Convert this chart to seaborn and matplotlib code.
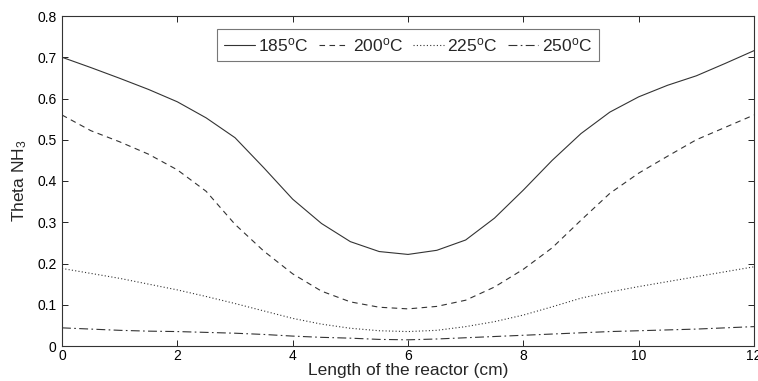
import numpy as np
import pandas as pd
import matplotlib
matplotlib.use("Agg")
import matplotlib.pyplot as plt
import seaborn as sns

length_cm = [0, 0.5, 1, 1.5, 2, 2.5, 3, 3.5, 4, 4.5, 5, 5.5, 6,
             6.5, 7, 7.5, 8, 8.5, 9, 9.5, 10, 10.5, 11, 11.5, 12]
theta_185 = [0.700, 0.675, 0.649, 0.622, 0.592, 0.553, 0.505, 0.432, 0.356, 0.297, 0.253, 0.229, 0.222,
             0.232, 0.257, 0.310, 0.378, 0.450, 0.515, 0.567, 0.604, 0.632, 0.655, 0.685, 0.716]
theta_200 = [0.560, 0.522, 0.495, 0.465, 0.427, 0.375, 0.295, 0.230, 0.175, 0.133, 0.107, 0.094, 0.090,
             0.096, 0.111, 0.143, 0.186, 0.238, 0.305, 0.370, 0.419, 0.460, 0.500, 0.530, 0.560]
theta_225 = [0.188, 0.176, 0.164, 0.150, 0.136, 0.120, 0.103, 0.085, 0.067, 0.053, 0.043, 0.037, 0.035,
             0.038, 0.047, 0.059, 0.075, 0.095, 0.116, 0.131, 0.144, 0.156, 0.168, 0.180, 0.192]
theta_250 = [0.044, 0.041, 0.038, 0.036, 0.035, 0.033, 0.031, 0.028, 0.024, 0.021, 0.019, 0.016, 0.015,
             0.017, 0.020, 0.023, 0.026, 0.029, 0.032, 0.035, 0.037, 0.039, 0.041, 0.044, 0.047]
series_labels = ["185$^\\mathrm{o}$C", "200$^\\mathrm{o}$C", "225$^\\mathrm{o}$C", "250$^\\mathrm{o}$C"]
x_ticks = [0, 2, 4, 6, 8, 10, 12]
y_ticks = [0, 0.1, 0.2, 0.3, 0.4, 0.5, 0.6, 0.7, 0.8]

sns.set_style("white")
plt.rcParams['font.family'] = ['Liberation Sans', 'DejaVu Sans']
plt.rcParams['mathtext.fontset'] = 'custom'
plt.rcParams['mathtext.rm'] = 'Liberation Sans'
plt.rcParams['mathtext.it'] = 'Liberation Sans:italic'

fig = plt.figure(figsize=(7.58, 3.81), dpi=100)
ax = fig.add_axes([62/758, 35/381, 692/758, 330/381])

styles = ['-', (0, (5, 4)), (0, (1, 2)), (0, (8, 3, 1.5, 3))]
for vals, lab, ls in zip([theta_185, theta_200, theta_225, theta_250], series_labels, styles):
    df = pd.DataFrame({"x": length_cm, "y": vals})
    sns.lineplot(data=df, x="x", y="y", ax=ax, color="#333333", linewidth=0.8,
                 linestyle=ls, label=lab)

ax.set_xlim(0, 12)
ax.set_ylim(0, 0.8)
ax.set_xticks(x_ticks)
ax.set_yticks(y_ticks)
ax.set_xticklabels([str(t) for t in x_ticks])
ax.set_yticklabels(["0" if t == 0 else f"{t:.1f}" for t in y_ticks])
ax.tick_params(direction='in', top=True, right=True, length=4, width=0.6,
               labelsize=10, colors='black', bottom=True, left=True)
ax.tick_params(axis='x', pad=2)
ax.tick_params(axis='y', pad=4)
ax.set_xlabel("Length of the reactor (cm)", fontsize=12.5, labelpad=0)
ax.set_ylabel("Theta NH$_3$", fontsize=12.5, labelpad=6)
for s in ax.spines.values():
    s.set_color('#333333')
    s.set_linewidth(0.8)

leg = ax.legend(ncol=4, loc='upper center', bbox_to_anchor=(0.5, 0.96),
                frameon=True, fancybox=False, fontsize=12.5, handlelength=1.75,
                columnspacing=0.6, handletextpad=0.2, borderpad=0.4,
                borderaxespad=0.0, edgecolor='#555555')
leg.get_frame().set_linewidth(0.8)

fig.savefig("out.png", dpi=100)
